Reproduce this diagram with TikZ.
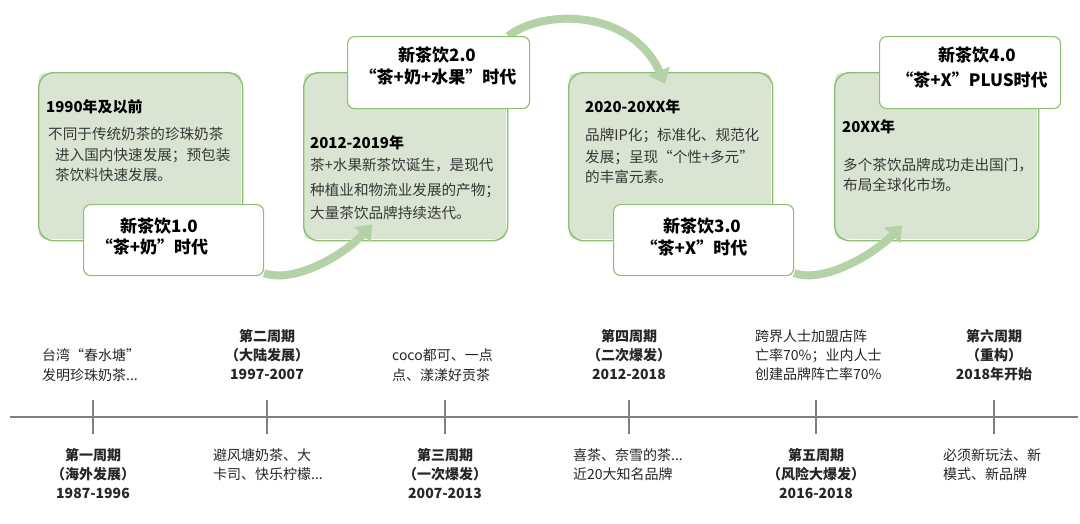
\documentclass[tikz,border=0pt]{standalone}
\usepackage{fontspec}
\setmainfont{Noto Sans CJK SC}
\usetikzlibrary{arrows.meta,calc}
\definecolor{gfill}{RGB}{217,229,210}
\definecolor{gline}{RGB}{140,192,110}
\definecolor{garrow}{RGB}{180,210,166}
\definecolor{tline}{RGB}{128,128,128}
\definecolor{bodytext}{RGB}{55,55,55}
\pgfdeclarelayer{boxes}
\pgfdeclarelayer{flows}
\pgfsetlayers{boxes,flows,main}
\begin{document}
\begin{tikzpicture}[x=1pt,y=-1pt,
  gbox/.style={draw=gline,line width=1.4pt,rounded corners=15pt,anchor=north west,inner sep=0pt},
  vbox/.style={draw=gline,fill=white,line width=1.1pt,rounded corners=7pt,anchor=north west,inner sep=0pt},
  flow/.style={draw=garrow,line width=8pt,-{Triangle[width=22pt,length=14pt]}},
  ttl/.style={inner sep=0pt,anchor=base west,font=\fontsize{15}{18}\selectfont\bfseries,text=black},
  body/.style={inner sep=0pt,anchor=base west,font=\fontsize{14.6}{18}\selectfont,text=bodytext},
  era/.style={inner sep=0pt,anchor=base,font=\fontsize{17}{20}\selectfont\bfseries,text=black},
  tl/.style={inner sep=0pt,anchor=base west,font=\fontsize{14}{17}\selectfont,text=black!85},
  tlb/.style={inner sep=0pt,anchor=base,font=\fontsize{14}{17}\selectfont\bfseries,text=black!85},
  tick/.style={draw=tline,line width=1.4pt}]
\useasboundingbox (0,0) rectangle (1080,523);
\begin{pgfonlayer}{boxes}
  \fill[white] (0,0) rectangle (1080,523);
  \foreach \n/\x in {gA/38,gB/303,gC/568,gD/834}{
    \fill[gfill,rounded corners=6pt] (\x+1,73) rectangle ++(202,166);
    \node[gbox,minimum width=204pt,minimum height=168pt] (\n) at (\x,72) {};
  }
\end{pgfonlayer}
% white era boxes
\node[vbox,minimum width=180pt,minimum height=71pt] (vA) at (83,204) {};
\node[vbox,minimum width=182pt,minimum height=72pt] (vB) at (347,36) {};
\node[vbox,minimum width=180pt,minimum height=71pt] (vC) at (613,204) {};
\node[vbox,minimum width=181pt,minimum height=72pt] (vD) at (879,36) {};
% flow arrows
\begin{pgfonlayer}{flows}
  \draw[flow] ($(vA.south east)+(0,-3)$) .. controls (295,284) and (345,254) .. ($(gB.south west)+(69,-17)$);
  \draw[flow] ($(vB.north east)+(-22,0)$) .. controls (545,8) and (632,10) .. ($(gC.north west)+(97,12)$);
  \draw[flow] ($(vC.south east)+(0,-3)$) .. controls (825,284) and (875,253) .. ($(gD.south west)+(68,-16)$);
\end{pgfonlayer}
% box A texts
\node[ttl]  (aT) at (46,112.7) {1990年及以前};
\node[body] (a1) at (48,139.5) {不同于传统奶茶的珍珠奶茶};
\node[body] (a2) at (55,160.5) {进入国内快速发展；预包装};
\node[body] (a3) at (55,180.5) {茶饮料快速发展。};
% box B texts
\node[ttl]  (bT) at (310,148.7) {2012-2019年};
\node[body] (b1) at (310,170.7) {茶+水果新茶饮诞生，是现代};
\node[body] (b2) at (310,195.7) {种植业和物流业发展的产物；};
\node[body] (b3) at (310,218.7) {大量茶饮品牌持续迭代。};
% box C texts
\node[ttl]  (cT) at (585,112.7) {2020-20XX年};
\node[body] (c1) at (585,140.5) {品牌IP化；标准化、规范化};
\node[body] (c2) at (585,162.5) {发展；呈现“个性+多元”};
\node[body] (c3) at (585,182.5) {的丰富元素。};
% box D texts
\node[ttl]  (dT) at (842,132.7) {20XX年};
\node[body] (d1) at (843,170.5) {多个茶饮品牌成功走出国门，};
\node[body] (d2) at (843,190.5) {布局全球化市场。};
% era texts
\node[era] (eA1) at (159,232.5) {新茶饮1.0};
\node[era] (eA2) at (152,253.5) {“茶+奶”时代};
\node[era] (eB1) at (437,61.5) {新茶饮2.0};
\node[era] (eB2) at (438,83.5) {“茶+奶+水果”时代};
\node[era] (eC1) at (702,232.5) {新茶饮3.0};
\node[era] (eC2) at (694,254.5) {“茶+X”时代};
\node[era] (eD1) at (977,61.5) {新茶饮4.0};
\node[era] (eD2) at (972,86.5) {“茶+X”PLUS时代};
% timeline
\coordinate (tL) at (10,417);
\coordinate (tR) at (1078,417);
\draw[tick] (tL) -- (tR);
\foreach \x in {93,267,445,629,816,994}{
  \draw[tick] (\x,400) -- (\x,434);
}
% upper labels
\node[tl]  (u1a) at (42,360) {台湾“春水塘”};
\node[tl]  (u1b) at (42,380) {发明珍珠奶茶...};
\node[tlb] (u2a) at (267,341) {第二周期};
\node[tlb] (u2b) at (267,360) {（大陆发展）};
\node[tlb] (u2c) at (267,379) {1997-2007};
\node[tl]  (u3a) at (392,360) {coco都可、一点};
\node[tl]  (u3b) at (392,380) {点、漾漾好贡茶};
\node[tlb] (u4a) at (629,341) {第四周期};
\node[tlb] (u4b) at (629,360) {（二次爆发）};
\node[tlb] (u4c) at (629,379) {2012-2018};
\node[tl]  (u5a) at (755,341) {跨界人士加盟店阵};
\node[tl]  (u5b) at (755,360) {亡率70\%；业内人士};
\node[tl]  (u5c) at (755,379) {创建品牌阵亡率70\%};
\node[tlb] (u6a) at (994,341) {第六周期};
\node[tlb] (u6b) at (994,360) {（重构）};
\node[tlb] (u6c) at (994,379) {2018年开始};
% lower labels
\node[tlb] (l1a) at (93,460) {第一周期};
\node[tlb] (l1b) at (93,479) {（海外发展）};
\node[tlb] (l1c) at (93,498) {1987-1996};
\node[tl]  (l2a) at (213,460) {避风塘奶茶、大};
\node[tl]  (l2b) at (213,479) {卡司、快乐柠檬...};
\node[tlb] (l3a) at (445,460) {第三周期};
\node[tlb] (l3b) at (445,479) {（一次爆发）};
\node[tlb] (l3c) at (445,498) {2007-2013};
\node[tl]  (l4a) at (573,460) {喜茶、奈雪的茶...};
\node[tl]  (l4b) at (573,479) {近20大知名品牌};
\node[tlb] (l5a) at (816,460) {第五周期};
\node[tlb] (l5b) at (816,479) {（风险大爆发）};
\node[tlb] (l5c) at (816,498) {2016-2018};
\node[tl]  (l6a) at (943,460) {必须新玩法、新};
\node[tl]  (l6b) at (943,479) {模式、新品牌};
\end{tikzpicture}
\end{document}
